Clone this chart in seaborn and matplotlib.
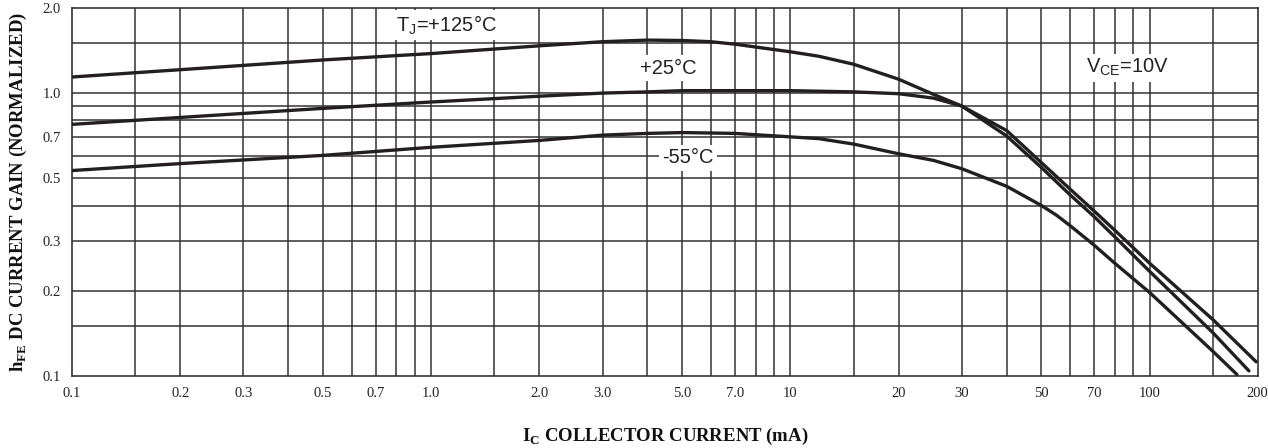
import matplotlib
matplotlib.use('Agg')
import matplotlib.pyplot as plt
import pandas as pd
import seaborn as sns

# hFE vs IC curves (IC in mA, hFE normalized)
ic_125 = [0.1, 0.2, 0.5, 1.0, 2.0, 3.0, 4.0, 5.0, 6.0, 7.0, 10, 12, 15, 20, 25, 30,
          40, 50, 60, 70, 80, 100, 150, 189]
hfe_125 = [1.14, 1.21, 1.31, 1.38, 1.47, 1.52, 1.54, 1.535, 1.52, 1.49, 1.40, 1.35,
           1.265, 1.12, 0.99, 0.90, 0.705, 0.545, 0.437, 0.366, 0.31, 0.234, 0.142, 0.104]

ic_25 = [0.1, 0.2, 0.5, 1.0, 2.0, 3.0, 4.0, 5.0, 7.0, 10, 15, 20, 25, 30,
         40, 50, 60, 70, 80, 100, 150, 198]
hfe_25 = [0.775, 0.82, 0.883, 0.93, 0.975, 1.0, 1.01, 1.02, 1.02, 1.02, 1.01, 0.995,
          0.96, 0.90, 0.737, 0.567, 0.458, 0.383, 0.327, 0.25, 0.158, 0.112]

ic_m55 = [0.1, 0.2, 0.5, 1.0, 2.0, 3.0, 4.0, 5.0, 7.0, 10, 12, 15, 20, 25, 30,
          40, 50, 55, 60, 70, 80, 100, 150, 175]
hfe_m55 = [0.532, 0.563, 0.602, 0.643, 0.68, 0.71, 0.72, 0.725, 0.72, 0.70, 0.69, 0.66,
           0.61, 0.578, 0.54, 0.468, 0.40, 0.37, 0.34, 0.29, 0.25, 0.197, 0.122, 0.101]

curve_names = ['+125', '+25', '-55']

x_ticks = [0.1, 0.2, 0.3, 0.5, 0.7, 1.0, 2.0, 3.0, 5.0, 7.0, 10, 20, 30, 50, 70, 100, 200]
x_tick_labels = ['0.1', '0.2', '0.3', '0.5', '0.7', '1.0', '2.0', '3.0', '5.0', '7.0',
                 '10', '20', '30', '50', '70', '100', '200']
x_grid = [0.15, 0.2, 0.3, 0.4, 0.5, 0.6, 0.7, 0.8, 0.9, 1.0, 1.5, 2, 3, 4, 5, 6, 7, 8, 9,
          10, 15, 20, 30, 40, 50, 60, 70, 80, 90, 100, 150]
y_ticks = [0.1, 0.2, 0.3, 0.5, 0.7, 1.0, 2.0]
y_tick_labels = ['0.1', '0.2', '0.3', '0.5', '0.7', '1.0', '2.0']
y_grid = [0.15, 0.2, 0.3, 0.4, 0.5, 0.6, 0.7, 0.8, 0.9, 1.0, 1.5]

df = pd.concat([
    pd.DataFrame({'ic': ic_125, 'hfe': hfe_125, 'tj': curve_names[0]}),
    pd.DataFrame({'ic': ic_25, 'hfe': hfe_25, 'tj': curve_names[1]}),
    pd.DataFrame({'ic': ic_m55, 'hfe': hfe_m55, 'tj': curve_names[2]}),
])

sns.set_style('white')
plt.rcParams['font.family'] = ['Liberation Serif', 'DejaVu Serif']
plt.rcParams['mathtext.fontset'] = 'custom'
plt.rcParams['mathtext.rm'] = 'Liberation Serif'
plt.rcParams['mathtext.bf'] = 'Liberation Serif:bold'

ink = '#231f20'
gridc = '#333333'

fig = plt.figure(figsize=(12.68, 4.48), dpi=100)
ax = fig.add_axes([0.0568, 0.1614, 0.9351, 0.8207])

sns.lineplot(data=df, x='ic', y='hfe', hue='tj', units='tj', estimator=None, sort=False,
             palette=[ink, ink, ink], linewidth=2.4, legend=False, ax=ax, zorder=3)

ax.set_xscale('log')
ax.set_yscale('log')
ax.set_xlim(0.1, 200)
ax.set_ylim(0.1, 2.0)

ax.set_xticks(x_ticks)
ax.set_xticklabels(x_tick_labels)
ax.set_xticks(x_grid, minor=True)
ax.set_xticklabels([], minor=True)
ax.set_yticks(y_ticks)
ax.set_yticklabels(y_tick_labels)
ax.set_yticks(y_grid, minor=True)
ax.set_yticklabels([], minor=True)

ax.tick_params(which='both', length=0, labelsize=10.5, colors='#222222')
ax.tick_params(axis='x', pad=8.5)
ax.tick_params(axis='y', pad=8)

# datasheet grid on the minor positions
ax.grid(False)
for v in x_grid:
    ax.axvline(v, color=gridc, linewidth=1.1, zorder=1)
for v in y_grid:
    ax.axhline(v, color=gridc, linewidth=1.1, zorder=1)
for s in ax.spines.values():
    s.set_color(gridc)
    s.set_linewidth(1.2)

ax.set_xlabel(r'I$_\mathregular{C}$ COLLECTOR CURRENT (mA)', fontsize=13.5, fontweight='bold',
              color='#111111')
ax.set_ylabel(r'h$_\mathregular{FE}$ DC CURRENT GAIN (NORMALIZED)', fontsize=13.5,
              fontweight='bold', color='#111111')
ax.xaxis.set_label_coords(0.5, -0.137)
ax.yaxis.set_label_coords(-0.036, 0.5)

box = dict(facecolor='white', edgecolor='none', pad=2.5)
lab = dict(fontsize=14.5, color='#222222', ha='center', va='center', bbox=box,
           family=['Liberation Sans', 'DejaVu Sans'], zorder=4)
ax.text(1.10, 1.74, r'T$_\mathregular{J}$=+125°C', **lab)
ax.text(4.58, 1.225, '+25°C', **lab)
ax.text(5.18, 0.59, '-55°C', **lab)
ax.text(87, 1.23, r'V$_\mathregular{CE}$=10V', **lab)

fig.savefig('out.png', dpi=100)
